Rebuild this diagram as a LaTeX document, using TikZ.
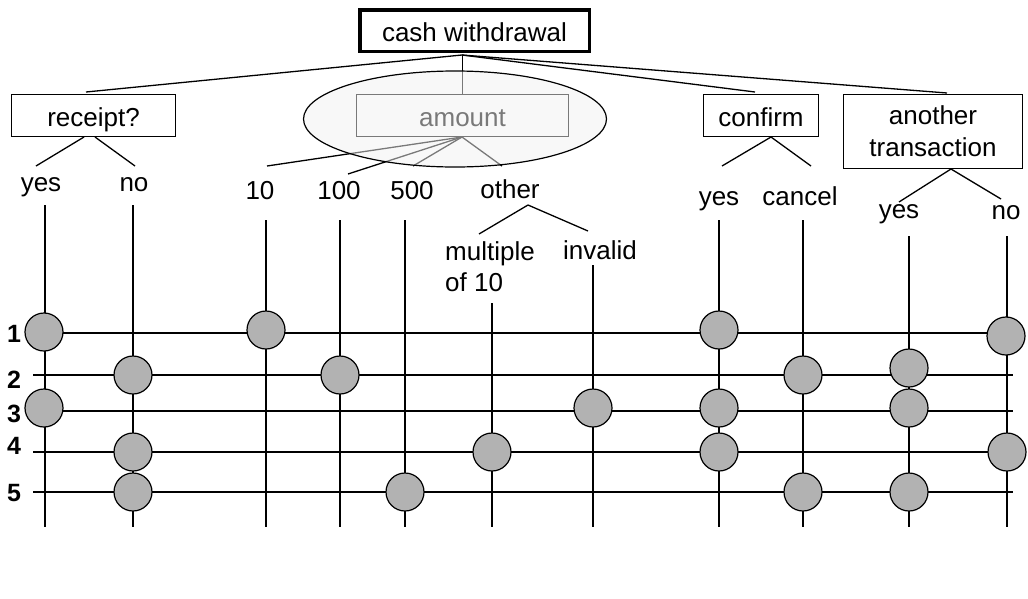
\documentclass[tikz,border=0pt]{standalone}
\usepackage{fontspec}
\setmainfont{Liberation Sans}
\usetikzlibrary{shapes.geometric}
\begin{document}
\begin{tikzpicture}[x=1pt,y=-1pt,
  boxbase/.style={draw, line width=1.2pt, inner sep=0, font=\fontsize{26}{32}\selectfont},
  box/.style={boxbase, text height=22, text depth=0},
  txt/.style={inner sep=0, anchor=base, font=\fontsize{26}{31}\selectfont},
  num/.style={inner sep=0, anchor=base, font=\fontsize{25}{29}\selectfont\bfseries},
  edge/.style={line width=1.3pt},
  gline/.style={line width=1.2pt},
  dot/.style={circle, draw, line width=1.2pt, fill=gray!60, minimum size=38, inner sep=0}
]
\useasboundingbox (0,0) rectangle (1028,598);

% ---------- boxes ----------
\node[box, line width=3.5pt, minimum width=229.5, minimum height=41.5] (cw) at (474.5,30.5) {cash withdrawal};
\node[box, minimum width=164, minimum height=42] (rec) at (93.5,115.5) {receipt?};
\node[box, minimum width=212, minimum height=42] (amt) at (462.5,115.5) {amount};
\node[box, minimum width=115, minimum height=42] (conf) at (761,115.5) {confirm};
\node[boxbase, minimum width=179, minimum height=74, align=center] (ano) at (933,131.5) {another\\transaction};

% ---------- leaf labels ----------
\node[txt] (rY) at (41,191) {yes};
\node[txt] (rN) at (134,191) {no};
\node[txt] (a10) at (260,199) {10};
\node[txt] (a100) at (339,199) {100};
\node[txt] (a500) at (412,199) {500};
\node[txt] (aOt) at (510,198) {other};
\node[inner sep=0, anchor=north west, align=left, font=\fontsize{26}{31}\selectfont] (mul) at (445,241) {multiple\\of 10};
\node[txt] (inv) at (600,259) {invalid};
\node[txt] (cY) at (719,205) {yes};
\node[txt] (cC) at (800,205) {cancel};
\node[txt] (nY) at (899,218) {yes};
\node[txt] (nN) at (1006,219) {no};

% ---------- tree connectors ----------
\coordinate (cwb) at (462,55);
\coordinate (recT) at (86,92);
\coordinate (confT) at (755,92);
\coordinate (anoT) at (947,93);
\draw[edge] (cwb) -- (recT);
\draw[edge] (cwb) -- (confT);
\draw[edge] (cwb) -- (anoT);
\draw[line width=0.8pt] (cwb) -- (amt.north -| cwb);

\coordinate (recL) at (84,137);
\coordinate (recR) at (95,137);
\coordinate (rYt) at (36,166);
\coordinate (rNt) at (135,166);
\draw[edge] (recL) -- (rYt);
\draw[edge] (recR) -- (rNt);

\coordinate (amtB) at (462,137);
\coordinate (a10t) at (267,166);
\coordinate (a100t) at (348,174);
\coordinate (a500t) at (413,166);
\coordinate (aOtt) at (502,166);
\draw[edge] (amtB) -- (a10t);
\draw[edge] (amtB) -- (a100t);
\draw[edge] (amtB) -- (a500t);
\draw[edge] (amtB) -- (aOtt);

\coordinate (otB) at (528,205);
\coordinate (mulT) at (479,234);
\coordinate (invT) at (588,231);
\draw[edge] (otB) -- (mulT);
\draw[edge] (otB) -- (invT);

\coordinate (confB) at (771,137);
\coordinate (cYt) at (722,166);
\coordinate (cCt) at (811,166);
\draw[edge] (confB) -- (cYt);
\draw[edge] (confB) -- (cCt);

\coordinate (anoB) at (951,169);
\coordinate (nYt) at (899,202);
\coordinate (nNt) at (1001,199);
\draw[edge] (anoB) -- (nYt);
\draw[edge] (anoB) -- (nNt);

% ---------- highlight ellipse over "amount" ----------
\node[ellipse, draw, line width=1.2pt, fill=gray!10, fill opacity=0.5, draw opacity=1,
      minimum width=303, minimum height=96, inner sep=0] (amtell) at (455,119) {};

% ---------- grid: columns ----------
\foreach \n/\x/\t in {c1/45/205, c2/133/205, c3/266/220, c4/340/220, c5/405/220,
                      c6/492/303, c7/593/265, c8/719/220, c9/803/220, c10/909/236, c11/1007/236} {
  \coordinate (\n t) at (\x,\t);
  \coordinate (\n b) at (\x,527);
  \draw[gline] (\n t) -- (\n b);
}

% ---------- grid: rows ----------
\foreach \r/\y/\b in {1/333/342, 2/375/388, 3/411/422, 4/452/454, 5/492/501} {
  \coordinate (r\r l) at (33,\y);
  \coordinate (r\r r) at (1013,\y);
  \draw[gline] (r\r l) -- (r\r r);
  \node[num] (lab\r) at (14,\b) {\r};
}

% ---------- dots ----------
\node[dot] (d11) at (44,332) {};
\node[dot] (d12) at (266,330) {};
\node[dot] (d13) at (719,330) {};
\node[dot] (d14) at (1006,336) {};

\node[dot] (d21) at (133,375) {};
\node[dot] (d22) at (340,375) {};
\node[dot] (d23) at (803,375) {};
\node[dot] (d24) at (909,368) {};

\node[dot] (d31) at (44,408) {};
\node[dot] (d32) at (593,408) {};
\node[dot] (d33) at (719,408) {};
\node[dot] (d34) at (909,408) {};

\node[dot] (d41) at (133,452) {};
\node[dot] (d42) at (492,452) {};
\node[dot] (d43) at (719,452) {};
\node[dot] (d44) at (1007,452) {};

\node[dot] (d51) at (133,492) {};
\node[dot] (d52) at (405,492) {};
\node[dot] (d53) at (803,492) {};
\node[dot] (d54) at (909,492) {};
\end{tikzpicture}
\end{document}
